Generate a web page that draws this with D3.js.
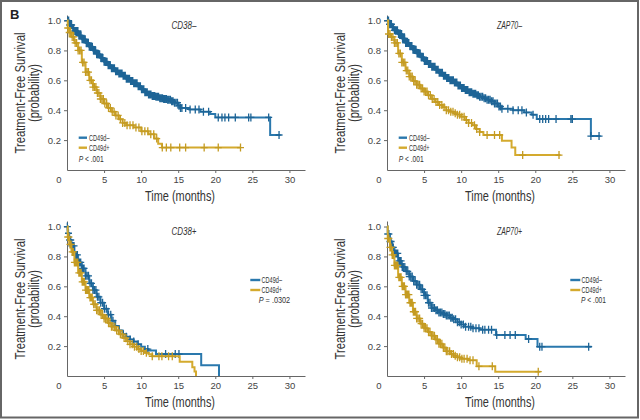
<!DOCTYPE html>
<html><head><meta charset="utf-8">
<script src="https://cdn.jsdelivr.net/npm/d3@7"></script>
<style>body{margin:0;background:#fff} svg{display:block}</style>
</head><body>
<svg id="c" width="640" height="420"></svg>
<script>
// ---------- DATA ----------
const panelTitles = ["CD38–", "ZAP70–", "CD38+", "ZAP70+"];
const groupLabels = ["CD49d–", "CD49d+"];
const pValues = [" < .001", " < .001", " = .0302", " < .001"];
const xTickValues = [0, 5, 10, 15, 20, 25, 30];
const yTickValues = [0.2, 0.4, 0.6, 0.8, 1.0];

// CD38– panel
const cd38negNegT = [0,0.3,0.7,1.0,1.5,2.0,2.5,3.0,3.5,4.0,4.5,5.0,5.5,6.0,6.5,7.0,7.5,8.0,8.5,9.0,9.5,10.0,10.5,11.0,11.5,12.0,12.5,13.0,13.5,14.0,14.5,15.0,15.3,16.5,18.0,19.3,20.0,27.4,28.8];
const cd38negNegS = [1.0,0.97,0.95,0.93,0.90,0.875,0.85,0.825,0.80,0.775,0.75,0.725,0.70,0.68,0.66,0.645,0.63,0.61,0.595,0.58,0.56,0.54,0.52,0.505,0.495,0.49,0.48,0.475,0.47,0.46,0.45,0.43,0.415,0.405,0.39,0.375,0.352,0.234,0.234];
const cd38negNegC = [0.1,0.22,0.35,0.5,0.62,0.78,0.9,1.05,1.2,1.33,1.47,1.6,1.76,1.9,2.03,2.18,2.3,2.46,2.6,2.74,2.88,3.0,3.15,3.3,3.42,3.57,3.7,3.86,4.0,4.13,4.28,4.4,4.56,4.7,4.84,5.0,5.12,5.27,5.4,5.55,5.7,5.84,6.0,6.12,6.27,6.4,6.56,6.7,6.85,7.0,7.13,7.28,7.42,7.57,7.7,7.86,8.0,8.14,8.3,8.43,8.58,8.72,8.87,9.0,9.16,9.3,9.45,9.6,9.76,9.9,10.05,10.2,10.36,10.5,10.67,10.82,11.0,11.15,11.32,11.5,11.66,11.83,12.0,12.18,12.35,12.52,12.7,12.88,13.05,13.22,13.4,13.58,13.76,13.95,14.12,14.3,14.5,14.7,14.9,15.1,15.3,15.5,16.0,16.6,17.3,17.8,18.4,19.1,20.4,20.9,21.3,21.8,22.7,24.5,24.8,27.2,28.6];
const cd38negPosT = [0,0.1,0.3,0.6,1.0,1.5,2.0,2.5,3.0,3.5,4.0,4.5,5.0,5.5,6.0,6.5,7.0,7.5,8.0,9.0,10.0,11.0,11.8,12.3,12.8,23.4];
const cd38negPosS = [1.0,0.95,0.92,0.89,0.85,0.80,0.72,0.655,0.60,0.555,0.515,0.475,0.445,0.415,0.39,0.365,0.34,0.315,0.30,0.285,0.26,0.24,0.21,0.175,0.15,0.15];
const cd38negPosC = [0.1,0.3,0.5,0.7,0.9,1.1,1.3,1.5,1.7,1.9,2.1,2.3,2.5,2.7,2.9,3.1,3.3,3.5,3.7,3.9,4.1,4.3,4.5,4.7,4.9,5.1,5.35,5.6,5.85,6.1,6.35,6.6,6.9,7.2,7.5,7.8,8.1,8.5,8.9,9.3,9.7,10.1,10.5,10.9,11.3,11.7,12.1,12.85,13.4,14.0,15.2,16.0,18.5,20.4,23.4];

// ZAP70– panel
const zap70negNegT = [0,0.3,0.7,1.0,1.5,2.0,2.5,3.0,3.5,4.0,4.5,5.0,5.5,6.0,6.5,7.0,7.5,8.0,8.5,9.0,9.5,10.0,10.5,11.0,11.5,12.0,12.5,13.0,13.5,14.0,14.5,15.0,15.5,17.0,18.5,19.5,20.2,27.5,28.8];
const zap70negNegS = [1.0,0.975,0.955,0.935,0.91,0.88,0.85,0.83,0.805,0.78,0.755,0.73,0.71,0.69,0.67,0.65,0.63,0.615,0.60,0.585,0.565,0.548,0.535,0.52,0.51,0.50,0.49,0.48,0.47,0.46,0.445,0.425,0.41,0.40,0.385,0.37,0.341,0.227,0.227];
const zap70negNegC = [0.08,0.2,0.34,0.47,0.6,0.74,0.88,1.0,1.14,1.28,1.41,1.55,1.7,1.83,1.97,2.1,2.25,2.38,2.52,2.66,2.8,2.94,3.08,3.22,3.36,3.5,3.63,3.78,3.92,4.06,4.2,4.34,4.48,4.62,4.76,4.9,5.04,5.18,5.32,5.46,5.6,5.75,5.9,6.04,6.18,6.32,6.47,6.6,6.75,6.9,7.04,7.18,7.33,7.47,7.62,7.76,7.9,8.05,8.2,8.34,8.5,8.64,8.8,8.95,9.1,9.26,9.42,9.58,9.74,9.9,10.06,10.22,10.4,10.56,10.73,10.9,11.08,11.25,11.42,11.6,11.78,11.96,12.14,12.32,12.5,12.7,12.9,13.1,13.3,13.5,13.7,13.9,14.1,14.3,14.5,14.7,14.9,15.1,15.3,15.5,16.3,17.0,17.7,18.2,18.8,19.7,20.6,21.0,21.4,21.8,22.8,24.8,25.0,27.5,28.6];
const zap70negPosT = [0,0.15,0.5,1.0,1.5,2.0,2.5,3.0,3.5,4.0,4.5,5.0,5.5,6.0,6.5,7.0,7.5,8.0,8.5,9.0,9.5,10.0,10.5,11.0,11.5,12.0,12.5,13.0,15.5,16.8,17.3,23.4];
const zap70negPosS = [1.0,0.91,0.89,0.85,0.78,0.72,0.665,0.625,0.595,0.57,0.545,0.525,0.50,0.475,0.455,0.435,0.42,0.40,0.39,0.38,0.37,0.357,0.335,0.315,0.30,0.275,0.255,0.234,0.196,0.15,0.10,0.10];
const zap70negPosC = [0.2,0.4,0.6,0.8,1.0,1.2,1.4,1.6,1.8,2.0,2.2,2.4,2.6,2.8,3.0,3.2,3.4,3.6,3.8,4.0,4.2,4.4,4.6,4.8,5.0,5.2,5.4,5.6,5.85,6.1,6.35,6.6,6.85,7.1,7.4,7.7,8.0,8.3,8.6,8.9,9.2,9.5,9.8,10.1,10.4,10.7,11.0,11.4,11.8,12.1,12.5,13.5,14.5,15.2,18.3,23.2];

// CD38+ panel
const cd38posNegT = [0,0.1,0.3,0.6,1.0,1.5,2.0,2.5,3.0,3.5,4.0,4.5,5.0,5.5,6.0,6.5,7.0,7.5,8.0,8.5,9.0,9.5,10.0,10.5,11.0,12.0,18.1,20.5];
const cd38posNegS = [1.0,0.955,0.91,0.87,0.81,0.76,0.72,0.67,0.62,0.575,0.53,0.49,0.45,0.41,0.37,0.335,0.305,0.28,0.262,0.245,0.23,0.212,0.195,0.18,0.17,0.147,0.072,0];
const cd38posNegC = [0.05,0.2,0.35,0.5,0.65,0.8,0.95,1.1,1.25,1.4,1.55,1.7,1.85,2.0,2.15,2.3,2.5,2.7,2.9,3.1,3.3,3.5,3.7,3.9,4.1,4.3,4.55,4.8,5.05,5.3,5.6,5.9,6.2,6.5,7.0,7.6,8.0,8.5,9.0,9.6,10.9,13.3,14.6,15.1];
const cd38posPosT = [0,0.1,0.3,0.6,1.0,1.5,2.0,2.5,3.0,3.5,4.0,4.5,5.0,5.5,6.0,6.5,7.0,7.5,8.0,8.5,9.0,9.5,10.0,10.5,11.0,11.5,15.2,16.9,17.2,17.4];
const cd38posPosS = [1.0,0.93,0.88,0.83,0.76,0.69,0.63,0.575,0.525,0.48,0.44,0.41,0.385,0.355,0.33,0.305,0.28,0.255,0.232,0.212,0.196,0.18,0.167,0.155,0.145,0.132,0.096,0.058,0.03,0];
const cd38posPosC = [0.1,0.25,0.4,0.55,0.7,0.85,1.0,1.15,1.3,1.45,1.6,1.75,1.9,2.05,2.2,2.35,2.5,2.65,2.8,2.95,3.1,3.25,3.4,3.6,3.8,4.0,4.2,4.4,4.6,4.8,5.0,5.2,5.4,5.6,5.8,6.0,6.2,6.45,6.7,6.95,7.2,7.45,7.7,7.95,8.2,8.5,8.8,9.1,9.4,9.7,10.0,10.3,10.7,11.5,12.4,12.8,13.7,14.2];

// ZAP70+ panel
const zap70posNegT = [0,0.1,0.4,0.7,1.0,1.5,2.0,2.5,3.0,3.5,4.0,4.5,5.0,5.5,6.0,6.5,7.0,7.5,8.0,8.5,9.0,9.5,10.0,10.5,11.5,12.5,14.7,18.7,20.3,27.6];
const zap70posNegS = [1.0,0.95,0.90,0.86,0.82,0.77,0.73,0.70,0.665,0.635,0.61,0.58,0.54,0.49,0.455,0.44,0.425,0.415,0.405,0.39,0.38,0.36,0.345,0.33,0.32,0.31,0.275,0.248,0.196,0.196];
const zap70posNegC = [0.1,0.25,0.4,0.55,0.7,0.85,1.0,1.15,1.3,1.45,1.6,1.75,1.9,2.05,2.2,2.4,2.6,2.8,3.0,3.2,3.4,3.6,3.8,4.0,4.2,4.4,4.6,4.8,5.0,5.2,5.4,5.6,5.8,6.0,6.2,6.4,6.6,6.8,7.0,7.2,7.4,7.6,7.8,8.0,8.2,8.4,8.6,8.8,9.0,9.25,9.5,9.75,10.0,10.3,10.6,11.0,11.3,11.6,12.0,12.4,12.9,13.2,13.7,14.1,14.8,15.9,16.6,17.3,19.1,20.6,20.9,27.2];
const zap70posPosT = [0,0.1,0.4,0.7,1.0,1.5,2.0,2.5,3.0,3.5,4.0,4.5,5.0,5.5,6.0,6.5,7.0,7.5,8.0,8.5,9.0,9.5,10.0,11.0,12.1,14.6,20.7];
const zap70posPosS = [1.0,0.92,0.86,0.81,0.74,0.66,0.60,0.545,0.49,0.43,0.385,0.35,0.32,0.295,0.27,0.245,0.215,0.19,0.165,0.148,0.135,0.125,0.115,0.105,0.065,0.029,0.029];
const zap70posPosC = [0.1,0.25,0.4,0.55,0.7,0.85,1.0,1.15,1.3,1.45,1.6,1.75,1.9,2.05,2.2,2.35,2.5,2.65,2.8,2.95,3.1,3.25,3.4,3.55,3.7,3.85,4.0,4.2,4.4,4.6,4.8,5.0,5.2,5.4,5.6,5.8,6.0,6.2,6.4,6.6,6.8,7.0,7.2,7.4,7.6,7.8,8.0,8.2,8.45,8.7,8.95,9.2,9.5,9.8,10.1,10.4,10.8,11.2,11.6,12.4,14.2,20.4];

// ---------- LAYOUT / STYLE ----------
const lineColors = ["#2a78ad", "#d4aa2e"];
const markColors = ["#1d6496", "#c49b22"];
const fontFam = "'Liberation Sans', Arial, Helvetica, sans-serif";
const panels = [
  {dx: 0,   dy: 0,   titleX: 171.5, legend: "left",  series: [[cd38negNegT, cd38negNegS, cd38negNegC], [cd38negPosT, cd38negPosS, cd38negPosC]]},
  {dx: 320, dy: 0,   titleX: 177,   legend: "left",  series: [[zap70negNegT, zap70negNegS, zap70negNegC], [zap70negPosT, zap70negPosS, zap70negPosC]]},
  {dx: 0,   dy: 206, titleX: 171.5, legend: "right", series: [[cd38posNegT, cd38posNegS, cd38posNegC], [cd38posPosT, cd38posPosS, cd38posPosC]]},
  {dx: 320, dy: 206, titleX: 177,   legend: "right", series: [[zap70posNegT, zap70posNegS, zap70posNegC], [zap70posPosT, zap70posPosS, zap70posPosC]]}
];

const svg = d3.select("#c");
svg.append("rect").attr("width", 640).attr("height", 420).attr("fill", "#fff");
svg.append("rect").attr("x", 1).attr("y", 1).attr("width", 637).attr("height", 416.5)
  .attr("fill", "none").attr("stroke", "#666").attr("stroke-width", 2);

svg.append("text").attr("x", 10).attr("y", 18.5).text("B")
  .attr("font-family", fontFam).attr("font-weight", "bold").attr("font-size", 13).attr("fill", "#222");

const x = d3.scaleLinear().domain([0, 32.1]).range([67, 305]);
const y = d3.scaleLinear().domain([0, 1.037]).range([170, 15]);

const line = d3.line().x(d => x(d[0])).y(d => y(d[1])).curve(d3.curveStepAfter);

function survAt(T, S, t) {
  let v = S[0];
  for (let i = 0; i < T.length; i++) { if (T[i] <= t + 1e-9) v = S[i]; else break; }
  return v;
}

panels.forEach((p, pi) => {
  const g = svg.append("g").attr("transform", `translate(${p.dx},${p.dy})`);

  // axes
  const ya = g.append("g").attr("transform", `translate(${x(0)},0)`)
    .call(d3.axisLeft(y).tickValues(yTickValues).tickSize(3).tickSizeOuter(0).tickPadding(3).tickFormat(d3.format(".1f")));
  const xa = g.append("g").attr("transform", `translate(0,${y(0)})`)
    .call(d3.axisBottom(x).tickValues(xTickValues).tickSize(3).tickSizeOuter(0).tickPadding(3).tickFormat(d3.format("d")));
  [ya, xa].forEach(a => {
    a.select(".domain").attr("stroke", "#666");
    a.selectAll(".tick line").attr("stroke", "#666");
    a.selectAll(".tick text").attr("fill", "#444").attr("font-size", 9.5).attr("font-family", fontFam);
  });
  xa.selectAll(".tick").filter(d => d === 0).each(function () {
    d3.select(this).select("line").remove();
    d3.select(this).select("text").attr("x", -8.5);
  });

  // curves
  p.series.forEach((s, si) => {
    const [T, S, C] = s;
    const n = Math.min(T.length, S.length);
    const pts = d3.range(n).map(i => [T[i], S[i]]);
    g.append("path").attr("d", line(pts)).attr("fill", "none")
      .attr("stroke", lineColors[si]).attr("stroke-width", 2);
    const marks = C.map(t => [x(t), y(survAt(T, S, t))]);
    g.append("path")
      .attr("d", marks.map(([mx, my]) => `M${mx - 3.5},${my}h7M${mx},${my - 4}v8`).join(""))
      .attr("stroke", markColors[si]).attr("stroke-width", 1.3).attr("fill", "none");
  });

  // panel title
  g.append("text").attr("x", p.titleX).attr("y", 28.5).text(panelTitles[pi])
    .attr("font-family", fontFam).attr("font-style", "italic").attr("font-size", 10).attr("fill", "#333")
    .attr("textLength", 25).attr("lengthAdjust", "spacingAndGlyphs");

  // legend
  const L = p.legend === "left"
    ? {lx0: 78.7, lx1: 87, tx: 89, y0: 137.7, px: 78.7, py: 161.5, pw: 25}
    : {lx0: 250.3, lx1: 260.3, tx: 261.5, y0: 74, px: p.dx === 0 ? 258.7 : 261, py: 97, pw: p.dx === 0 ? 31.5 : 25};
  groupLabels.forEach((lab, li) => {
    const yy = L.y0 + li * 10;
    g.append("line").attr("x1", L.lx0).attr("x2", L.lx1).attr("y1", yy).attr("y2", yy)
      .attr("stroke", lineColors[li]).attr("stroke-width", 2.4);
    g.append("text").attr("x", L.tx).attr("y", yy + 2.9).text(lab)
      .attr("font-family", fontFam).attr("font-size", 8.5).attr("fill", "#333")
      .attr("textLength", 20.5).attr("lengthAdjust", "spacingAndGlyphs");
  });
  const pt = g.append("text").attr("x", L.px).attr("y", L.py)
    .attr("font-family", fontFam).attr("font-size", 8.5).attr("fill", "#333")
    .attr("textLength", L.pw).attr("lengthAdjust", "spacingAndGlyphs");
  pt.append("tspan").attr("font-style", "italic").text("P");
  pt.append("tspan").text(pValues[pi]);

  // axis titles
  g.append("text").attr("transform", "translate(25,93) rotate(-90)").attr("text-anchor", "middle")
    .text("Treatment-Free Survival").attr("font-family", fontFam).attr("font-size", 14).attr("fill", "#333")
    .attr("textLength", 121).attr("lengthAdjust", "spacingAndGlyphs");
  g.append("text").attr("transform", "translate(39,93) rotate(-90)").attr("text-anchor", "middle")
    .text("(probability)").attr("font-family", fontFam).attr("font-size", 14).attr("fill", "#333")
    .attr("textLength", 58).attr("lengthAdjust", "spacingAndGlyphs");
  g.append("text").attr("x", 180).attr("y", 200.5).attr("text-anchor", "middle")
    .text("Time (months)").attr("font-family", fontFam).attr("font-size", 14).attr("fill", "#333")
    .attr("textLength", 70).attr("lengthAdjust", "spacingAndGlyphs");
});
</script>
</body></html>
